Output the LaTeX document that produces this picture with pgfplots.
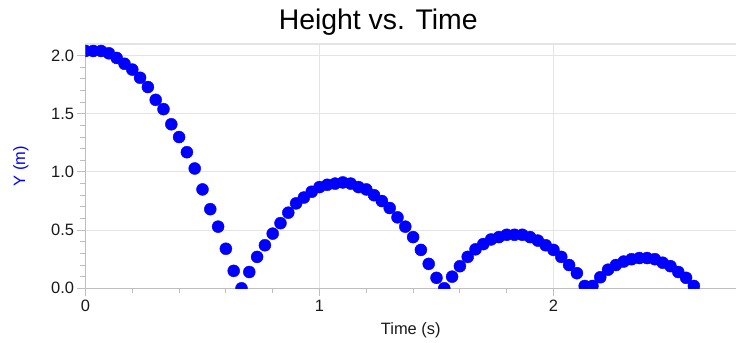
\documentclass[border=0pt]{standalone}
\usepackage{pgfplots}
\pgfplotsset{compat=1.18}
\usepackage{fontspec}
\setmainfont{Liberation Sans}
\definecolor{ptblue}{RGB}{0,0,255}
\definecolor{axgray}{RGB}{190,190,190}
\definecolor{grgray}{RGB}{228,228,228}
\definecolor{txt}{RGB}{25,25,25}
\begin{document}
\begin{tikzpicture}
\begin{axis}[
  scale only axis,
  width=650.5bp, height=244.3bp,
  xmin=0, xmax=2.78, ymin=0, ymax=2.10,
  axis lines*=left,
  axis line style={axgray, line width=1.3bp},
  tick align=outside,
  xtick={0,1,2}, ytick={0,0.5,1.0,1.5,2.0},
  minor x tick num=4, minor y tick num=4,
  major tick length=8bp, minor tick length=5bp,
  tick style={axgray, line width=1bp},
  grid=major,
  major grid style={grgray, line width=1bp},
  /pgf/number format/assume math mode=true,
  yticklabel style={/pgf/number format/.cd, fixed, fixed zerofill, precision=1},
  ticklabel style={font=\fontsize{16.5}{18}\selectfont, text=txt},
  xticklabel style={/pgf/number format/.cd, fixed, precision=0},
  xlabel={Time (s)},
  ylabel={Y (m)},
  xlabel style={font=\fontsize{16.5}{18}\selectfont, text=txt, at={(axis description cs:0.5,-0.172)}, anchor=center},
  ylabel style={font=\fontsize{16.5}{18}\selectfont, text=ptblue, at={(axis description cs:-0.0992,0.5)}, anchor=center},
  title={Height vs. Time},
  title style={font=\fontsize{28.5}{30}\selectfont, text=black, at={(axis description cs:0.45,1)}, anchor=base, yshift=9bp},
  clip marker paths=true,
]
\draw[grgray, line width=1.8bp] (rel axis cs:0,1) -- (rel axis cs:1,1);
\addplot[only marks, mark=*, mark size=6bp, mark options={draw=ptblue, fill=ptblue}] coordinates {
(0,2.04) (0.0333,2.04) (0.0667,2.04) (0.1,2.02) (0.1333,1.98) (0.1667,1.93)
(0.2,1.88) (0.2333,1.81) (0.2667,1.73) (0.3,1.62) (0.3333,1.54) (0.3667,1.41)
(0.4,1.30) (0.4333,1.17) (0.4667,1.03) (0.5,0.85) (0.5333,0.68) (0.5667,0.53)
(0.6,0.34) (0.6333,0.15) (0.6667,0.00) (0.7,0.14) (0.7333,0.27) (0.7667,0.37)
(0.8,0.47) (0.8333,0.56) (0.8667,0.65) (0.9,0.73) (0.9333,0.78) (0.9667,0.83)
(1.0,0.87) (1.0333,0.89) (1.0667,0.90) (1.1,0.91) (1.1333,0.90) (1.1667,0.87)
(1.2,0.85) (1.2333,0.80) (1.2667,0.75) (1.3,0.69) (1.3333,0.61) (1.3667,0.53)
(1.4,0.44) (1.4333,0.33) (1.4667,0.21) (1.5,0.09) (1.5333,0.00) (1.5667,0.10)
(1.6,0.19) (1.6333,0.27) (1.6667,0.335) (1.7,0.38) (1.7333,0.42) (1.7667,0.44)
(1.8,0.46) (1.8333,0.46) (1.8667,0.46) (1.9,0.44) (1.9333,0.41) (1.9667,0.37)
(2.0,0.33) (2.0333,0.27) (2.0667,0.20) (2.1,0.13) (2.1333,0.02) (2.1667,0.02)
(2.2,0.095) (2.2333,0.16) (2.2667,0.20) (2.3,0.23) (2.3333,0.25) (2.3667,0.26)
(2.4,0.26) (2.4333,0.25) (2.4667,0.22) (2.5,0.19) (2.5333,0.14) (2.5667,0.09)
(2.6,0.02)
};
\end{axis}
\pgfresetboundingbox
\path ([shift={(-85.5bp,-54.7bp)}]current axis.south west) rectangle ([shift={(0bp,44bp)}]current axis.north east);
\end{tikzpicture}
\end{document}
